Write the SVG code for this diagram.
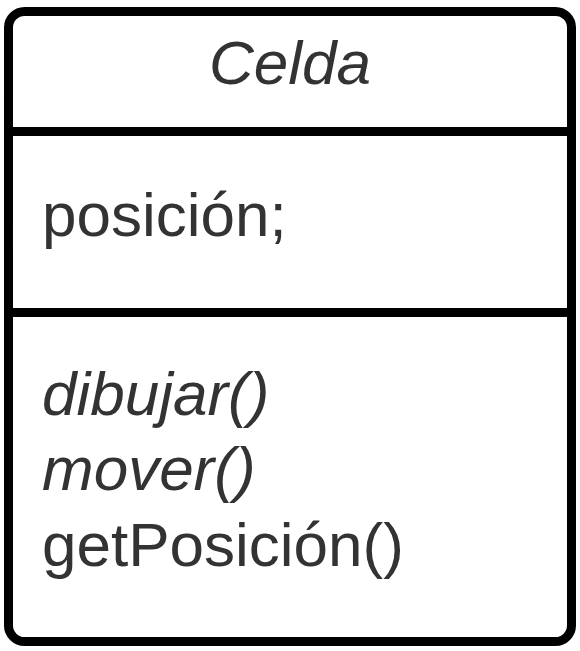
<svg xmlns="http://www.w3.org/2000/svg" width="580" height="651" viewBox="0 0 580 651">
<style>
.box{fill:#ffffff;stroke:#000000;stroke-width:9}
.line{stroke:#000000;stroke-width:9;fill:none}
.t{font-family:"Liberation Sans",Arial,sans-serif;font-size:62px;fill:#333333}
.i{font-style:italic}
</style>
<rect width="580" height="651" fill="#ffffff"/>
<g id="Celda">
<rect class="box" x="8.5" y="11.5" width="563" height="630" rx="16" ry="16"/>
<g id="connectors">
<line class="line" x1="8.5" y1="131.5" x2="571.5" y2="131.5"/>
<line class="line" x1="8.5" y1="312.5" x2="571.5" y2="312.5"/>
</g>
<text class="t i" x="290" y="84" text-anchor="middle">Celda</text>
<text class="t" x="42" y="236">posición;</text>
<text class="t i" x="42" y="415">dibujar()</text>
<text class="t i" x="42" y="490">mover()</text>
<text class="t" x="42" y="566">getPosición()</text>
</g>
</svg>
